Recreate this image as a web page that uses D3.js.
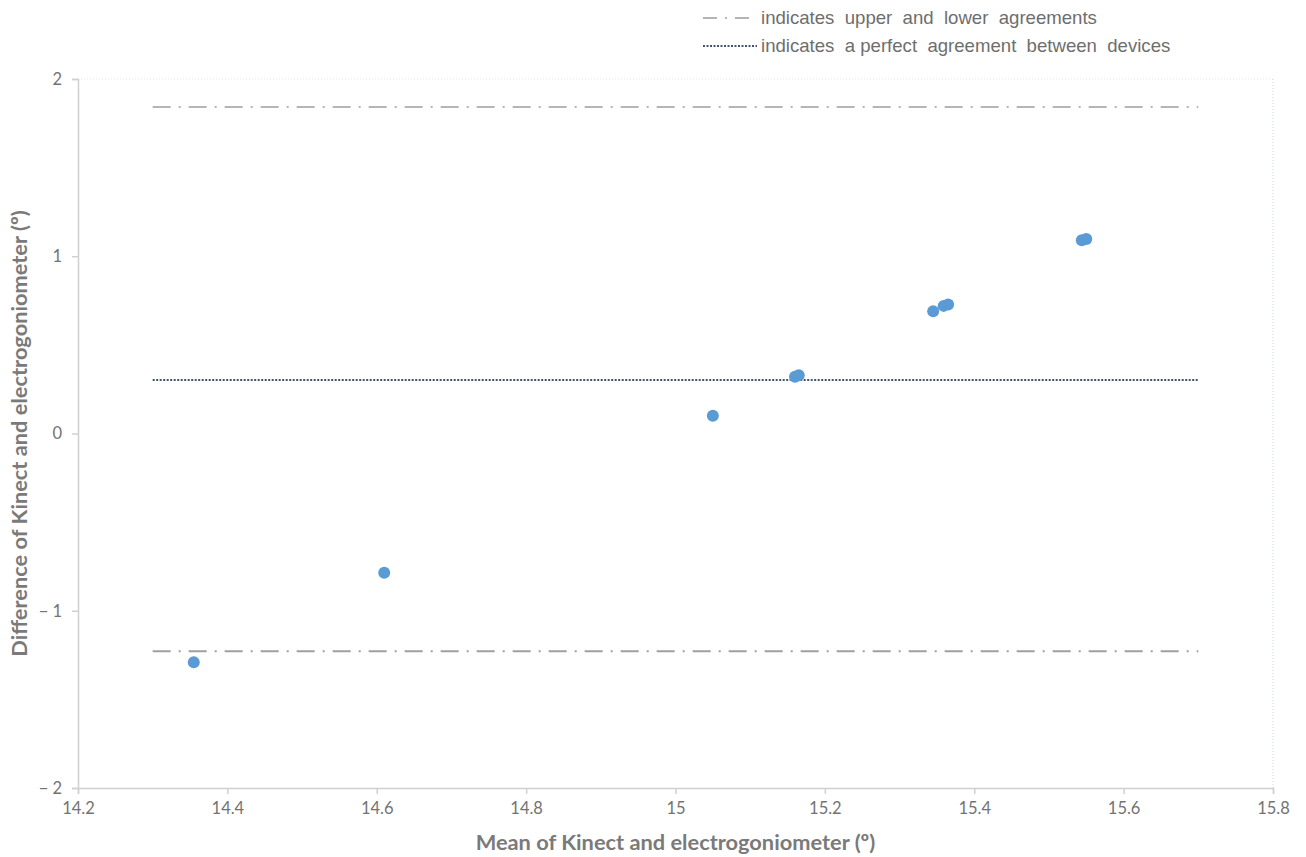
<!DOCTYPE html>
<html>
<head>
<meta charset="utf-8">
<script src="https://cdn.jsdelivr.net/npm/d3@7"></script>
<style>
  body { margin: 0; background: #fff; }
  svg { display: block; }
</style>
</head>
<body>
<main></main>
<script>
const width = 1306, height = 857;

// data
const meanVals = [14.355, 14.61, 15.05, 15.16, 15.165, 15.345, 15.359, 15.365, 15.544, 15.55];
const diffVals = [-1.29, -0.785, 0.10, 0.32, 0.328, 0.69, 0.72, 0.728, 1.09, 1.097];
const xTicks = [14.2, 14.4, 14.6, 14.8, 15, 15.2, 15.4, 15.6, 15.8];
const yTicks = [-2, -1, 0, 1, 2];
const lineRange = [14.3, 15.7];
const upperLimit = 1.842, lowerLimit = -1.228, meanDiff = 0.302;
const legendLabels = ["indicates  upper  and  lower  agreements", "indicates  a perfect  agreement  between  devices"];

const margin = {left: 78, right: 33, top: 79, bottom: 69};

const svg = d3.select("main").append("svg")
    .attr("width", width)
    .attr("height", height);

const x = d3.scaleLinear().domain([14.2, 15.8]).range([margin.left, width - margin.right]);
const y = d3.scaleLinear().domain([-2, 2]).range([height - margin.bottom, margin.top]);

// faint frame top / right
svg.append("line")
    .attr("x1", x(14.2)).attr("x2", x(15.8))
    .attr("y1", y(2)).attr("y2", y(2))
    .attr("stroke", "#dfe6f0").attr("stroke-dasharray", "1,2");
svg.append("line")
    .attr("x1", x(15.8)).attr("x2", x(15.8))
    .attr("y1", y(2)).attr("y2", y(-2))
    .attr("stroke", "#c9d6ea").attr("stroke-dasharray", "1,2");

const xAxis = svg.append("g")
    .attr("transform", "translate(0," + y(-2) + ")")
    .call(d3.axisBottom(x).tickValues(xTicks).tickSize(6).tickPadding(8)
        .tickFormat(d => d3.format("")(+d.toFixed(1))));
const yAxis = svg.append("g")
    .attr("transform", "translate(" + x(14.2) + ",0)")
    .call(d3.axisLeft(y).tickValues(yTicks).tickSize(6).tickPadding(10)
        .tickFormat(d => d < 0 ? "\u2212 " + Math.abs(d) : d));

[xAxis, yAxis].forEach(a => {
  a.select(".domain").attr("stroke", "#d0d0d0").attr("stroke-width", 1.5);
  a.selectAll(".tick line").attr("stroke", "#d0d0d0").attr("stroke-width", 1.5);
  a.selectAll(".tick text")
      .attr("fill", "#737373")
      .style("font-family", "Lato, 'Open Sans', sans-serif")
      .style("font-size", "16.5px");
});

// reference lines
svg.append("line")
    .attr("x1", x(lineRange[0])).attr("x2", x(lineRange[1]))
    .attr("y1", y(upperLimit)).attr("y2", y(upperLimit))
    .attr("stroke", "#b5b5b5").attr("stroke-width", 2)
    .attr("stroke-dasharray", "18,8,2,8");
svg.append("line")
    .attr("x1", x(lineRange[0])).attr("x2", x(lineRange[1]))
    .attr("y1", y(lowerLimit)).attr("y2", y(lowerLimit))
    .attr("stroke", "#a0a0a0").attr("stroke-width", 2)
    .attr("stroke-dasharray", "18,8,2,8");
svg.append("line")
    .attr("x1", x(lineRange[0])).attr("x2", x(lineRange[1]))
    .attr("y1", y(meanDiff)).attr("y2", y(meanDiff))
    .attr("stroke", "#44546a").attr("stroke-width", 2)
    .attr("stroke-dasharray", "2,1.5");

// points
svg.selectAll("circle.pt")
    .data(meanVals.map((m, i) => ({m: m, d: diffVals[i]})))
    .enter().append("circle")
    .attr("class", "pt")
    .attr("cx", d => x(d.m))
    .attr("cy", d => y(d.d))
    .attr("r", 6)
    .attr("fill", "#5b9bd5");

// axis titles
svg.append("text")
    .attr("x", (x(14.2) + x(15.8)) / 2)
    .attr("y", 850)
    .attr("text-anchor", "middle")
    .attr("fill", "#7a7a7a")
    .style("font-family", "Lato, 'Open Sans', sans-serif")
    .style("font-weight", "bold")
    .style("font-size", "21.8px")
    .text("Mean of Kinect and electrogoniometer (º)");
svg.append("text")
    .attr("transform", "translate(27," + (y(0)) + ") rotate(-90)")
    .attr("text-anchor", "middle")
    .attr("fill", "#7a7a7a")
    .style("font-family", "Lato, 'Open Sans', sans-serif")
    .style("font-weight", "bold")
    .style("font-size", "21.8px")
    .text("Difference of Kinect and electrogoniometer (º)");

// legend
const legend = svg.append("g");
legend.append("line")
    .attr("x1", 703).attr("x2", 750).attr("y1", 18).attr("y2", 18)
    .attr("stroke", "#b5b5b5").attr("stroke-width", 2)
    .attr("stroke-dasharray", "14,8,2,8");
legend.append("line")
    .attr("x1", 703).attr("x2", 757).attr("y1", 46).attr("y2", 46)
    .attr("stroke", "#44546a").attr("stroke-width", 2)
    .attr("stroke-dasharray", "2,1.5");
legend.selectAll("text")
    .data(legendLabels)
    .enter().append("text")
    .attr("x", 761)
    .attr("y", (d, i) => 24 + i * 28)
    .attr("fill", "#6e6e6e")
    .style("font-family", "'Liberation Sans', Arial, sans-serif")
    .style("font-size", "18.6px")
    .style("white-space", "pre")
    .text(d => d);
</script>
</body>
</html>
